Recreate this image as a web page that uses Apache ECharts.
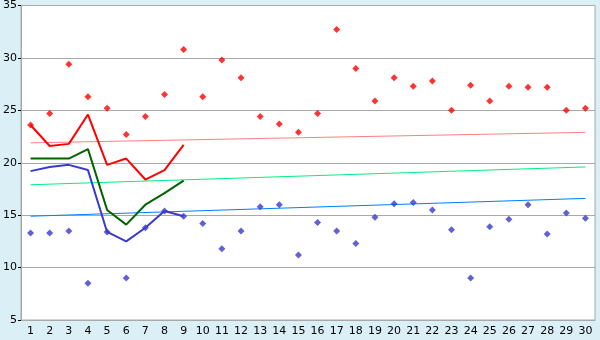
<!DOCTYPE html>
<html><head><meta charset="utf-8">
<script src="https://cdn.jsdelivr.net/npm/echarts@6/dist/echarts.min.js"></script>
<style>html,body{margin:0;padding:0;background:#daeff6;}#c{width:600px;height:340px;}</style>
</head><body><div id="c"></div>
<script>
var categories = ['1','2','3','4','5','6','7','8','9','10','11','12','13','14','15','16','17','18','19','20','21','22','23','24','25','26','27','28','29','30'];
var redPoints = [23.6,24.7,29.4,26.3,25.2,22.7,24.4,26.5,30.8,26.3,29.8,28.1,24.4,23.7,22.9,24.7,32.7,29.0,25.9,28.1,27.3,27.8,25.0,27.4,25.9,27.3,27.2,27.2,25.0,25.2];
var bluePoints = [13.3,13.3,13.5,8.5,13.4,9.0,13.8,15.4,14.9,14.2,11.8,13.5,15.8,16.0,11.2,14.3,13.5,12.3,14.8,16.1,16.2,15.5,13.6,9.0,13.9,14.6,16.0,13.2,15.2,14.7];
var redLine = [23.6,21.6,21.8,24.6,19.8,20.4,18.4,19.3,21.7];
var greenLine = [20.4,20.4,20.4,21.3,15.5,14.1,16.0,17.1,18.3];
var blueLine = [19.2,19.6,19.8,19.3,13.4,12.5,13.8,15.4,14.9];
var redTrend = [21.9,22.9];
var greenTrend = [17.9,19.6];
var blueTrend = [14.9,16.6];

function trend(ends){
  var a = categories.map(function(){return null;});
  a[0] = ends[0]; a[a.length-1] = ends[1];
  return a;
}
var chart = echarts.init(document.getElementById('c'), null, {renderer:'canvas'});
var font = 'DejaVu Sans';
chart.setOption({
  backgroundColor:'#daeff6',
  animation:false,
  grid:{left:21,right:5,top:5,bottom:20,show:true,backgroundColor:'#ffffff',borderColor:'#a8a8a8',borderWidth:1},
  xAxis:{type:'category',data:categories,boundaryGap:true,
    axisLine:{lineStyle:{color:'#a8a8a8'}},
    axisTick:{alignWithLabel:true,length:4,lineStyle:{color:'#000'}},
    axisLabel:{color:'#000',fontFamily:font,fontSize:11,margin:6,interval:0},
    splitLine:{show:false}},
  yAxis:{type:'value',min:5,max:35,interval:5,
    axisLine:{show:true,lineStyle:{color:'#a8a8a8'}},
    axisTick:{show:true,length:3,lineStyle:{color:'#000'}},
    axisLabel:{color:'#000',fontFamily:font,fontSize:11,margin:4},
    splitLine:{lineStyle:{color:'#a8a8a8'}}},
  series:[
    {type:'line',data:trend(redTrend),connectNulls:true,showSymbol:false,lineStyle:{color:'#ff8080',width:1},z:1},
    {type:'line',data:trend(greenTrend),connectNulls:true,showSymbol:false,lineStyle:{color:'#00f080',width:1},z:1},
    {type:'line',data:trend(blueTrend),connectNulls:true,showSymbol:false,lineStyle:{color:'#0080ff',width:1},z:1},
    {type:'line',data:redLine,showSymbol:false,lineStyle:{color:'#ff0000',width:2},z:2},
    {type:'line',data:greenLine,showSymbol:false,lineStyle:{color:'#006400',width:2},z:2},
    {type:'line',data:blueLine,showSymbol:false,lineStyle:{color:'#3a3acc',width:2},z:2},
    {type:'scatter',data:redPoints,symbol:'diamond',symbolSize:7,itemStyle:{color:'#ff0000'},z:3},
    {type:'scatter',data:bluePoints,symbol:'diamond',symbolSize:7,itemStyle:{color:'#3a3acc'},z:3}
  ]
});
</script></body></html>
